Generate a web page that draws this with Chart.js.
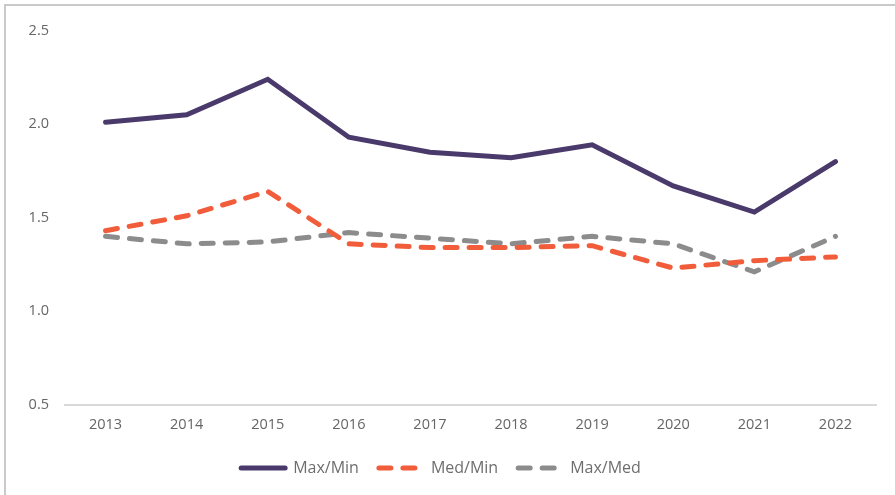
<!DOCTYPE html>
<html>
<head>
<meta charset="utf-8">
<script src="https://cdn.jsdelivr.net/npm/chart.js@4"></script>
<style>
  html, body { margin: 0; padding: 0; background: #fff; }
  #wrap {
    position: absolute; left: 4px; top: 4px;
    width: 891px; height: 491px;
    border-left: 2px solid #c9c9c9; border-top: 2px solid #c9c9c9;
  }
  #chart { display: block; }
</style>
</head>
<body>
<div id="wrap"><canvas id="chart" width="889" height="489"></canvas></div>
<script>
// années
const years = ['2013', '2014', '2015', '2016', '2017', '2018', '2019', '2020', '2021', '2022'];

// ratios
const maxMin = [2.01, 2.05, 2.24, 1.93, 1.85, 1.82, 1.89, 1.67, 1.53, 1.80];
const medMin = [1.43, 1.51, 1.64, 1.36, 1.34, 1.34, 1.35, 1.23, 1.27, 1.29];
const maxMed = [1.40, 1.36, 1.37, 1.42, 1.39, 1.36, 1.40, 1.36, 1.21, 1.40];

const yTicks = [0.5, 1.0, 1.5, 2.0, 2.5];

const canvas = document.getElementById('chart');
const fontFamily = '"Open Sans", "Noto Sans", sans-serif';

function serie(label, data, color, dash) {
    return {
        label: label,
        data: data,
        borderColor: color,
        backgroundColor: color,
        borderWidth: 5,
        borderDash: dash,
        borderCapStyle: 'round',
        pointRadius: 0,
        tension: 0
    };
}

const chart = new Chart(canvas, {
    type: 'line',
    data: {
        labels: years,
        datasets: [
            serie('Max/Min', maxMin, '#4a3a6b', []),
            serie('Med/Min', medMin, '#f15d3b', [12, 12]),
            serie('Max/Med', maxMed, '#8c8c8c', [12, 12])
        ]
    },
    options: {
        responsive: false,
        animation: false,
        layout: { padding: { top: 16, right: 19, left: 0, bottom: 9 } },
        plugins: {
            tooltip: { enabled: false },
            legend: {
                position: 'bottom',
                labels: {
                    usePointStyle: true,
                    pointStyle: 'line',
                    pointStyleWidth: 44,
                    padding: 20,
                    color: '#6e6e6e',
                    font: { family: fontFamily, size: 16 },
                    generateLabels: function(chart) {
                        const items = Chart.defaults.plugins.legend.labels.generateLabels(chart);
                        items.forEach((item, i) => {
                            const ds = chart.data.datasets[i];
                            item.lineDash = ds.borderDash;
                            item.lineCap = 'round';
                            item.lineWidth = 5;
                            item.strokeStyle = ds.borderColor;
                        });
                        return items;
                    }
                }
            }
        },
        scales: {
            x: {
                offset: true,
                afterFit: function(axis) {
                    axis.height -= 6;
                },
                grid: { display: false, drawTicks: false },
                border: { display: true, color: '#d9d9d9', width: 2 },
                ticks: {
                    color: '#666',
                    padding: 12,
                    font: { family: fontFamily, size: 14.5 }
                }
            },
            y: {
                min: 0.5,
                max: 2.5,
                afterBuildTicks: function(axis) {
                    axis.ticks = yTicks.map(v => ({ value: v }));
                },
                afterFit: function(axis) {
                    axis.width = 59;
                },
                grid: { display: false, drawTicks: false },
                border: { display: false },
                ticks: {
                    color: '#666',
                    padding: 16,
                    font: { family: fontFamily, size: 14.5 },
                    callback: function(value) {
                        return value.toFixed(1);
                    }
                }
            }
        }
    }
});
</script>
</body>
</html>
